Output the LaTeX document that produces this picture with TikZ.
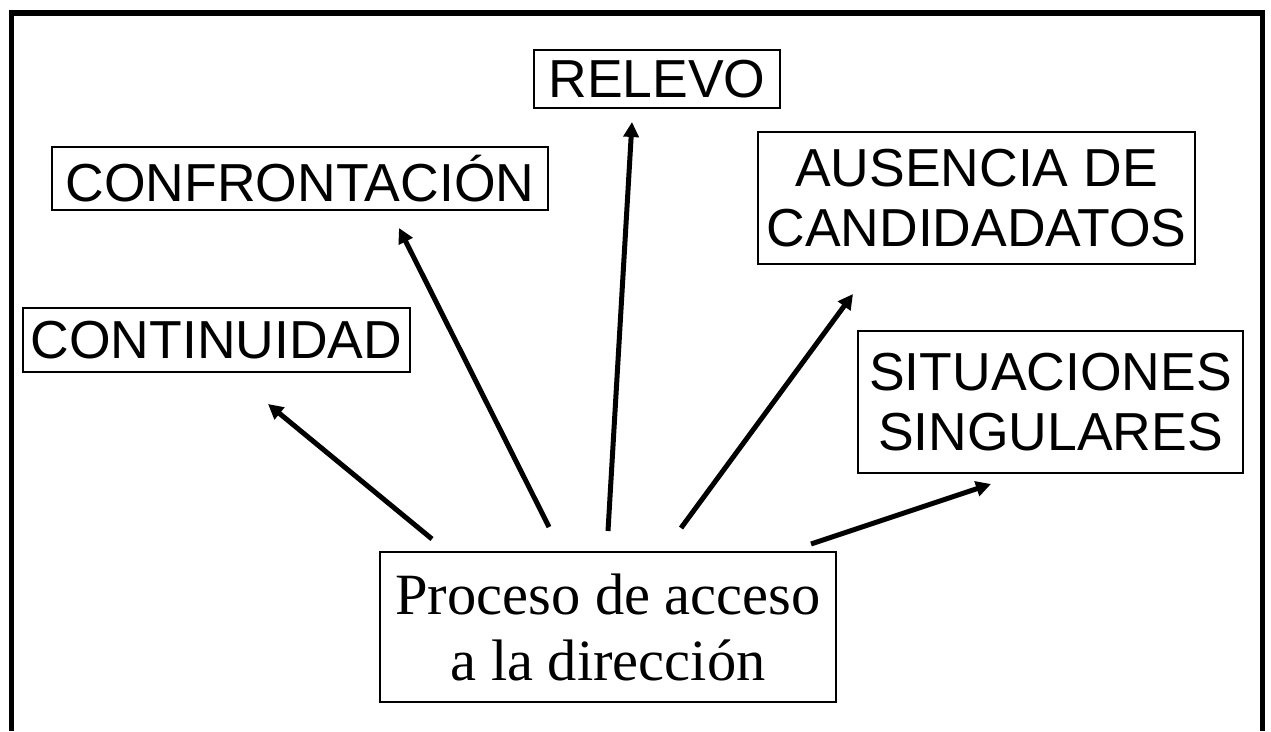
\documentclass[tikz,border=0pt]{standalone}
\usepackage{fontspec}
\setmainfont{Liberation Serif}
\newfontfamily\arialfont{Liberation Sans}
\usetikzlibrary{arrows.meta}
\begin{document}
\begin{tikzpicture}[x=1pt,y=-1pt,
  lbl/.style={draw,line width=2.3pt,inner sep=0pt,align=center,
    font=\arialfont\fontsize{53.5}{60.5}\selectfont},
  proc/.style={draw,line width=2.3pt,inner sep=0pt,align=center,
    font=\fontsize{58.5}{66}\selectfont},
  arr/.style={line width=5pt,-{Triangle[length=15pt,width=15pt]}}]
\useasboundingbox (0,0) rectangle (1271,731);
\draw[line width=5.5pt] (11.5,731) -- (11.5,13) -- (1262.5,13) -- (1262.5,731);
\node[lbl,minimum width=246pt,minimum height=58pt] (relevo) at (657,79) {RELEVO};
\node[lbl,minimum width=496pt,minimum height=63pt] (confr) at (300,178.5) {CONFRONTACIÓN};
\node[lbl,minimum width=437pt,minimum height=132pt] (ausen) at (976.5,198) {AUSENCIA DE\\CANDIDADATOS};
\node[lbl,minimum width=387pt,minimum height=64pt] (conti) at (216.5,340) {CONTINUIDAD};
\node[lbl,minimum width=385pt,minimum height=142pt] (situa) at (1050.5,402) {SITUACIONES\\SINGULARES};
\node[proc,minimum width=456pt,minimum height=150pt] (proc) at (608,627) {Proceso de acceso\\ a la dirección};
\coordinate (t1) at (432,539); \coordinate (h1) at (268,404);
\coordinate (t2) at (549,527); \coordinate (h2) at (399,228);
\coordinate (t3) at (608,531); \coordinate (h3) at (632,122);
\coordinate (t4) at (681,528); \coordinate (h4) at (853,294);
\coordinate (t5) at (811,544); \coordinate (h5) at (991,484);
\draw[arr] (t1) -- (h1);
\draw[arr] (t2) -- (h2);
\draw[arr] (t3) -- (h3);
\draw[arr] (t4) -- (h4);
\draw[arr] (t5) -- (h5);
\end{tikzpicture}
\end{document}
